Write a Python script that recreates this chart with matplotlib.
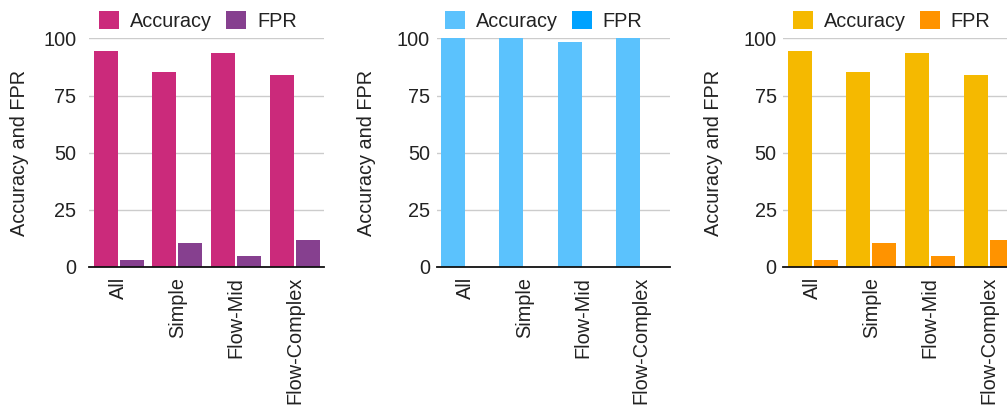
import matplotlib.pyplot as plt
import numpy as np

plt.rcParams['font.family'] = ['Liberation Sans', 'DejaVu Sans']

categories = ['All', 'Simple', 'Flow-Mid', 'Flow-Complex']

acc_1 = [94.4, 85.4, 93.7, 84.0]
fpr_1 = [3.2, 10.5, 4.9, 11.9]

acc_2 = [100.0, 100.0, 98.4, 100.0]
fpr_2 = [0.0, 0.0, 0.0, 0.0]

acc_3 = [94.4, 85.4, 93.7, 84.0]
fpr_3 = [3.2, 10.5, 4.9, 11.9]

W, H = 1007, 407
fig = plt.figure(figsize=(W / 100, H / 100), dpi=100)

# (left px, width px, tick pad px, legend x, accuracy colour, fpr colour, data)
panels = [
    (89.3, 235.0, 13.0, 0.463, '#CB2A7B', '#86408F', acc_1, fpr_1),
    (436.7, 233.3, 6.7, 0.459, '#5BC2FD', '#00A2FF', acc_2, fpr_2),
    (783.3, 235.0, 6.7, 0.461, '#F5B900', '#FF9300', acc_3, fpr_3),
]

top_px, bottom_px = 38.5, 267.0
x = np.arange(len(categories))
bw = 0.4085
gap = 0.034
fs = 14.3

for left, width, pad, lx, c_acc, c_fpr, acc, fpr in panels:
    ax = fig.add_axes([left / W, (H - bottom_px) / H, width / W, (bottom_px - top_px) / H])
    ax.bar(x - (bw + gap) / 2, acc, bw, color=c_acc, label='Accuracy', zorder=2)
    ax.bar(x + (bw + gap) / 2, fpr, bw, color=c_fpr, label='FPR', zorder=2)

    ax.set_xlim(-0.5, 3.5)
    ax.set_ylim(0, 100)
    ax.set_yticks([0, 25, 50, 75, 100])
    ax.yaxis.grid(True, color='#CCCCCC', linewidth=1.0, zorder=0)
    ax.set_axisbelow(True)

    for s in ['top', 'right', 'left']:
        ax.spines[s].set_visible(False)
    ax.spines['bottom'].set_color('#111111')
    ax.spines['bottom'].set_linewidth(1.3)
    ax.spines['bottom'].set_zorder(3)

    ax.set_xticks(x)
    ax.set_xticklabels(categories, rotation=90, va='top', ha='center')
    ax.tick_params(axis='x', length=0, pad=7, labelsize=fs, labelcolor='#222222')
    ax.tick_params(axis='y', length=0, pad=pad * 0.72, labelsize=fs, labelcolor='#222222')

    ax.set_ylabel('Accuracy and FPR', fontsize=fs, color='#222222', va='center')
    ax.yaxis.set_label_coords(-70 / width, 0.5)

    ax.legend(loc='center', bbox_to_anchor=(lx, 1.077), ncol=2, frameon=False,
              fontsize=fs, handlelength=1.0, handleheight=1.0, handletextpad=0.55,
              columnspacing=0.72, borderpad=0, borderaxespad=0, labelcolor='#222222')

fig.savefig('out.png', dpi=100)
